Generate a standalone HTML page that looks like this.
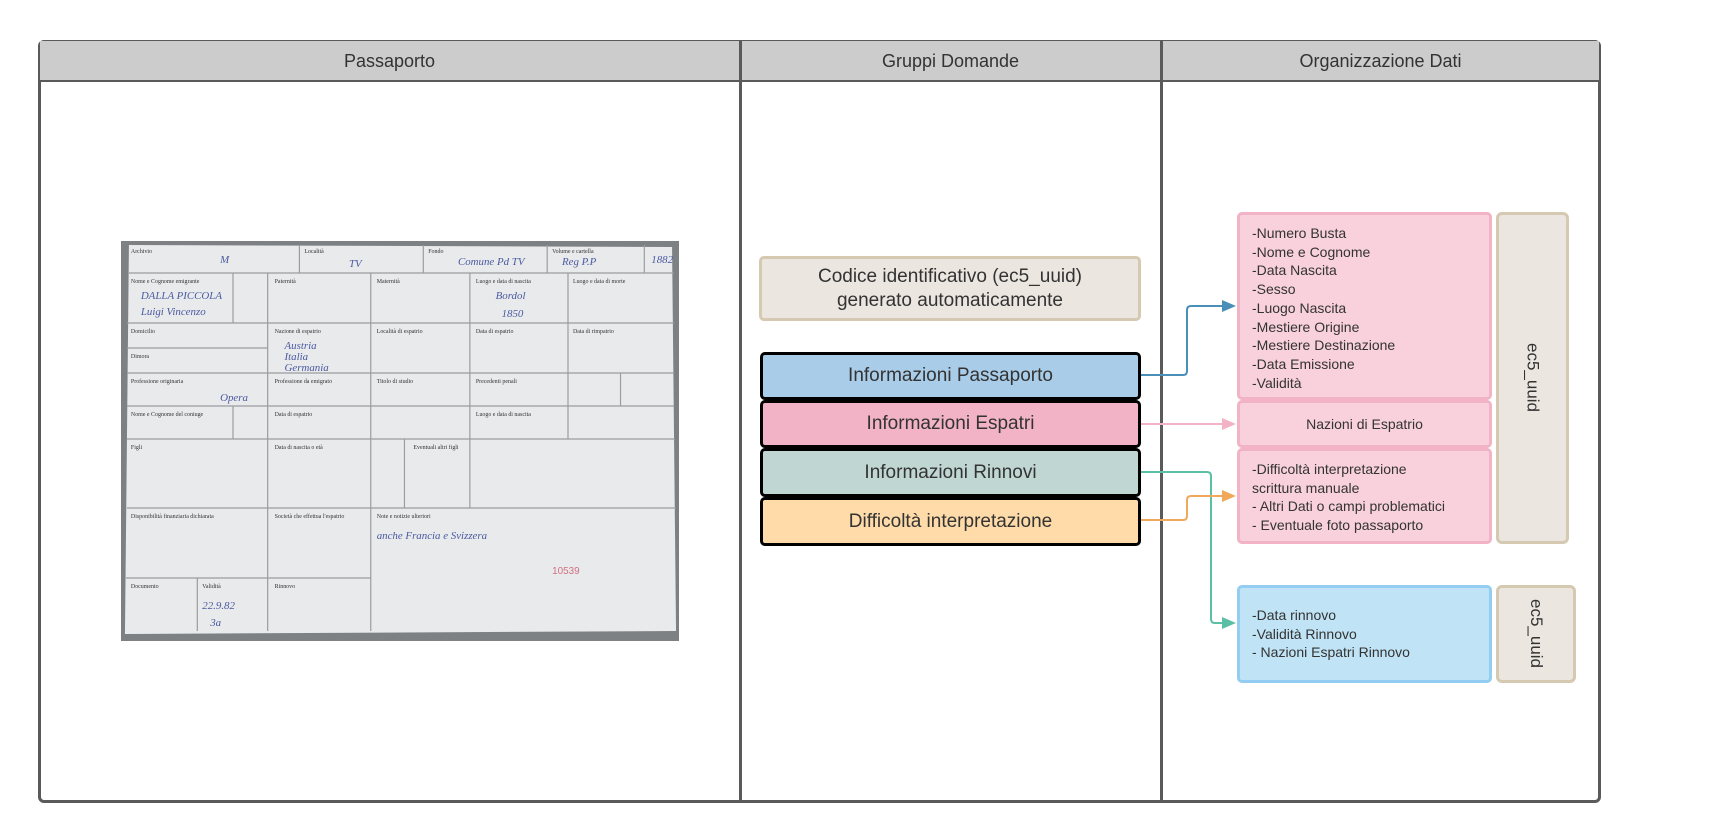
<!DOCTYPE html>
<html><head><meta charset="utf-8"><style>
body{margin:0;width:1730px;height:840px;background:#fff;font-family:"Liberation Sans",sans-serif;position:relative;overflow:hidden;color:#333}
.a{position:absolute;box-sizing:border-box}
.hd{background:#cccccc;top:41px;height:40px;font-size:18px;display:flex;align-items:center;justify-content:center;color:#333}
.bx{display:flex;align-items:center;justify-content:center;text-align:center;border-radius:5px}
.g{border:3px solid #000;background:#a9cce8;font-size:19px;color:#333}
.list{font-size:14px;line-height:18.7px;padding-left:12px;border-radius:5px}
.v{writing-mode:vertical-rl;font-size:17px;display:flex;align-items:center;justify-content:center;background:#ebe6e0;border:3px solid #d5c9b2;border-radius:6px}
</style></head><body>
<div class="a" style="left:38px;top:40px;width:1563px;height:763px;border:3px solid #5a5a5a;border-radius:6px"></div>
<div class="a hd" style="left:40px;width:699px">Passaporto</div>
<div class="a hd" style="left:741px;width:419px">Gruppi Domande</div>
<div class="a hd" style="left:1162px;width:437px">Organizzazione Dati</div>
<div class="a" style="left:38px;top:80px;width:1563px;height:2px;background:#5a5a5a"></div>
<div class="a" style="left:739px;top:40px;width:3px;height:763px;background:#5a5a5a"></div>
<div class="a" style="left:1160px;top:40px;width:3px;height:763px;background:#5a5a5a"></div>

<svg class="a" style="left:121px;top:241px" width="558" height="400" viewBox="0 0 563 400" preserveAspectRatio="none">
<rect width="563" height="400" fill="#7e8184"/>
<polygon points="8,4 556,6 560,390 4,393" fill="#e9eaec"/>
<g stroke="#9a9c9f" stroke-width="1.2" fill="none">
<line x1="8" y1="32" x2="558" y2="32"/><line x1="6" y1="82" x2="558" y2="82"/><line x1="6" y1="132" x2="558" y2="132"/><line x1="6" y1="165" x2="558" y2="165"/><line x1="6" y1="198" x2="559" y2="198"/><line x1="6" y1="267" x2="560" y2="267"/><line x1="5" y1="337" x2="252" y2="337"/>
<line x1="148" y1="32" x2="148" y2="390"/><line x1="252" y1="32" x2="252" y2="390"/><line x1="352" y1="32" x2="352" y2="267"/><line x1="451" y1="32" x2="451" y2="198"/>
<line x1="180" y1="4" x2="180" y2="32"/><line x1="305" y1="4" x2="305" y2="32"/><line x1="430" y1="4" x2="430" y2="32"/><line x1="528" y1="4" x2="528" y2="32"/>
<line x1="113" y1="32" x2="113" y2="82"/><line x1="113" y1="165" x2="113" y2="198"/><line x1="6" y1="107" x2="148" y2="107"/><line x1="504" y1="132" x2="504" y2="165"/><line x1="286" y1="198" x2="286" y2="267"/><line x1="77" y1="337" x2="77" y2="390"/>
</g>
<g font-family="Liberation Serif" font-size="6" fill="#333">
<text x="10" y="12">Archivio</text><text x="185" y="12">Località</text><text x="310" y="12">Fondo</text><text x="435" y="12">Volume e cartella</text>
<text x="10" y="42">Nome e Cognome emigrante</text><text x="155" y="42">Paternità</text><text x="258" y="42">Maternità</text><text x="358" y="42">Luogo e data di nascita</text><text x="456" y="42">Luogo e data di morte</text>
<text x="10" y="92">Domicilio</text><text x="10" y="117">Dimora</text><text x="155" y="92">Nazione di espatrio</text><text x="258" y="92">Località di espatrio</text><text x="358" y="92">Data di espatrio</text><text x="456" y="92">Data di rimpatrio</text>
<text x="10" y="142">Professione originaria</text><text x="155" y="142">Professione da emigrato</text><text x="258" y="142">Titolo di studio</text><text x="358" y="142">Precedenti penali</text>
<text x="10" y="175">Nome e Cognome del coniuge</text><text x="155" y="175">Data di espatrio</text><text x="358" y="175">Luogo e data di nascita</text>
<text x="10" y="208">Figli</text><text x="155" y="208">Data di nascita o età</text><text x="295" y="208">Eventuali altri figli</text>
<text x="10" y="277">Disponibilità finanziaria dichiarata</text><text x="155" y="277">Società che effettua l'espatrio</text><text x="258" y="277">Note e notizie ulteriori</text>
<text x="10" y="347">Documento</text><text x="82" y="347">Validità</text><text x="155" y="347">Rinnovo</text>
</g>
<g font-family="Liberation Serif" font-style="italic" font-size="11" fill="#4a5aa0">
<text x="100" y="22">M</text><text x="230" y="26">TV</text><text x="340" y="24">Comune Pd TV</text><text x="445" y="24">Reg P.P</text><text x="535" y="22">1882</text>
<text x="20" y="58">DALLA PICCOLA</text><text x="20" y="74">Luigi Vincenzo</text><text x="378" y="58">Bordol</text><text x="384" y="76">1850</text>
<text x="165" y="108">Austria</text><text x="165" y="119">Italia</text><text x="165" y="130">Germania</text><text x="100" y="160">Opera</text>
<text x="258" y="298">anche Francia e Svizzera</text><text x="82" y="368">22.9.82</text><text x="90" y="385">3a</text>
</g>
<text x="435" y="333" font-size="10" fill="#d07080" font-family="Liberation Sans">10539</text>
</svg>

<div class="a bx" style="left:759px;top:256px;width:382px;height:65px;background:#ebe6e0;border:3px solid #d5c9b2;font-size:19px;line-height:24px">Codice identificativo (ec5_uuid)<br>generato automaticamente</div>
<div class="a bx g" style="left:760px;top:352px;width:381px;height:48px">Informazioni Passaporto</div>
<div class="a bx g" style="left:760px;top:400px;width:381px;height:48px;background:#f2b3c7">Informazioni Espatri</div>
<div class="a bx g" style="left:760px;top:448px;width:381px;height:49px;background:#bfd6d2">Informazioni Rinnovi</div>
<div class="a bx g" style="left:760px;top:497px;width:381px;height:49px;background:#fedba8">Difficoltà interpretazione</div>

<div class="a list" style="left:1237px;top:212px;width:255px;height:188px;background:#f8d1dd;border:3px solid #f2b3c7;padding-top:9px">-Numero Busta<br>-Nome e Cognome<br>-Data Nascita<br>-Sesso<br>-Luogo Nascita<br>-Mestiere Origine<br>-Mestiere Destinazione<br>-Data Emissione<br>-Validità</div>
<div class="a bx" style="left:1237px;top:400px;width:255px;height:48px;background:#f8d1dd;border:3px solid #f2b3c7;font-size:14px">Nazioni di Espatrio</div>
<div class="a list" style="left:1237px;top:448px;width:255px;height:96px;background:#f8d1dd;border:3px solid #f2b3c7;padding-top:9px">-Difficoltà interpretazione<br>scrittura manuale<br>- Altri Dati o campi problematici<br>- Eventuale foto passaporto</div>
<div class="a v" style="left:1496px;top:212px;width:73px;height:332px">ec5_uuid</div>
<div class="a list" style="left:1237px;top:585px;width:255px;height:98px;background:#c0e3f5;border:3px solid #94cdf2;padding-top:18px">-Data rinnovo<br>-Validità Rinnovo<br>- Nazioni Espatri Rinnovo</div>
<div class="a v" style="left:1496px;top:585px;width:80px;height:98px">ec5_uuid</div>

<svg class="a" style="left:0;top:0" width="1730" height="840">
<g fill="none" stroke-width="2">
<path d="M1141 375 H1183 Q1187 375 1187 371 V310 Q1187 306 1191 306 H1224" stroke="#4a8fb8"/>
<path d="M1141 424 H1224" stroke="#f2b3c7"/>
<path d="M1141 472 H1207 Q1211 472 1211 476 V619 Q1211 623 1215 623 H1224" stroke="#5bbfa6"/>
<path d="M1141 520 H1183 Q1187 520 1187 516 V500 Q1187 496 1191 496 H1224" stroke="#f0a85c"/>
</g>
<polygon points="1222,300 1236,306 1222,312" fill="#4a8fb8"/>
<polygon points="1222,418 1236,424 1222,430" fill="#f2b3c7"/>
<polygon points="1222,617 1236,623 1222,629" fill="#5bbfa6"/>
<polygon points="1222,490 1236,496 1222,502" fill="#f0a85c"/>
</svg>
</body></html>
